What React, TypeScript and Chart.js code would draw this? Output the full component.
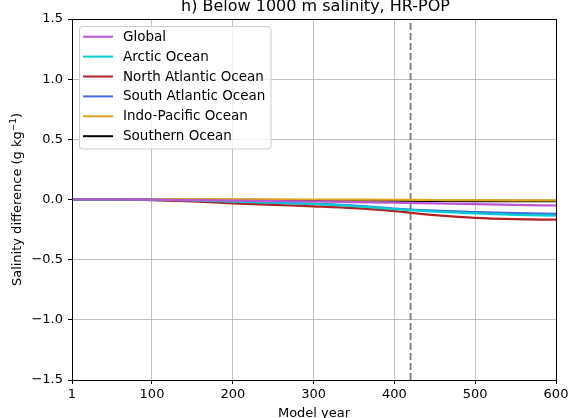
import React, { useEffect, useRef } from "react";
import { Chart, registerables } from "chart.js";

Chart.register(...registerables);

const YEARS = [1, 50, 100, 150, 200, 250, 300, 350, 400, 450, 500, 550, 600];
const GLOBAL = [0, 0, -0.002, -0.005, -0.009, -0.013, -0.017, -0.021, -0.026, -0.033, -0.039, -0.045, -0.05];
const ARCTIC = [0, 0, -0.002, -0.008, -0.017, -0.027, -0.037, -0.055, -0.08, -0.1, -0.115, -0.127, -0.135];
const NORTH_ATLANTIC = [0, 0, -0.005, -0.016, -0.032, -0.045, -0.057, -0.072, -0.097, -0.13, -0.152, -0.163, -0.168];
const SOUTH_ATLANTIC = [0, 0, -0.003, -0.01, -0.02, -0.028, -0.037, -0.05, -0.075, -0.093, -0.104, -0.113, -0.12];
const INDO_PACIFIC = [0, 0, 0.002, 0.003, 0.002, 0.001, 0, -0.001, -0.002, -0.004, -0.006, -0.007, -0.008];
const SOUTHERN = [0, 0, 0, -0.001, -0.002, -0.004, -0.005, -0.007, -0.01, -0.012, -0.013, -0.013, -0.013];

const SERIES_NAMES = ["Global", "Arctic Ocean", "North Atlantic Ocean", "South Atlantic Ocean", "Indo-Pacific Ocean", "Southern Ocean"];
const SERIES_VALUES = [GLOBAL, ARCTIC, NORTH_ATLANTIC, SOUTH_ATLANTIC, INDO_PACIFIC, SOUTHERN];
const SERIES_COLORS = ["#ba55d3", "#00ced1", "#b22222", "#4169e1", "#daa520", "#000000"];

const X_TICKS = [1, 100, 200, 300, 400, 500, 600];
const Y_TICKS = [-1.5, -1.0, -0.5, 0.0, 0.5, 1.0, 1.5];
const MARKER_YEAR = [420, 420];
const MARKER_Y = [-1.5, 1.5];

const TITLE = "h) Below 1000 m salinity, HR-POP";
const X_LABEL = "Model year";
const FONT = "'DejaVu Sans', sans-serif";

const decorPlugin = {
  id: "decor",
  afterDraw(chart: any) {
    const ctx = chart.ctx;
    const a = chart.chartArea;
    ctx.save();
    // frame
    ctx.strokeStyle = "#000";
    ctx.lineWidth = 1;
    ctx.strokeRect(Math.round(a.left) + 0.5, Math.round(a.top) + 0.5, Math.round(a.right - a.left), Math.round(a.bottom - a.top));
    // title
    ctx.fillStyle = "#000";
    ctx.font = `16px ${FONT}`;
    ctx.textAlign = "center";
    ctx.textBaseline = "alphabetic";
    ctx.fillText(TITLE, (a.left + a.right) / 2 + 1.5, 11);
    // x label
    ctx.font = `13px ${FONT}`;
    ctx.fillText(X_LABEL, (a.left + a.right) / 2, 416.5);
    // y label with superscript
    ctx.save();
    ctx.translate(20.5, (a.top + a.bottom) / 2);
    ctx.rotate(-Math.PI / 2);
    const p1 = "Salinity difference (g kg";
    const sup = "\u22121";
    const p2 = ")";
    ctx.font = `13px ${FONT}`;
    const w1 = ctx.measureText(p1).width;
    const w3 = ctx.measureText(p2).width;
    ctx.font = `9px ${FONT}`;
    const w2 = ctx.measureText(sup).width;
    const total = w1 + w2 + w3;
    let x = -total / 2;
    ctx.textAlign = "left";
    ctx.font = `13px ${FONT}`;
    ctx.fillText(p1, x, 0);
    x += w1;
    ctx.font = `9px ${FONT}`;
    ctx.fillText(sup, x, -5);
    x += w2;
    ctx.font = `13px ${FONT}`;
    ctx.fillText(p2, x, 0);
    ctx.restore();
    // legend
    const lx = 79.5, ly = 26.5, lw = 191.5, lh = 122.5, r = 3;
    ctx.beginPath();
    ctx.moveTo(lx + r, ly);
    ctx.lineTo(lx + lw - r, ly);
    ctx.quadraticCurveTo(lx + lw, ly, lx + lw, ly + r);
    ctx.lineTo(lx + lw, ly + lh - r);
    ctx.quadraticCurveTo(lx + lw, ly + lh, lx + lw - r, ly + lh);
    ctx.lineTo(lx + r, ly + lh);
    ctx.quadraticCurveTo(lx, ly + lh, lx, ly + lh - r);
    ctx.lineTo(lx, ly + r);
    ctx.quadraticCurveTo(lx, ly, lx + r, ly);
    ctx.closePath();
    ctx.fillStyle = "rgba(255,255,255,0.8)";
    ctx.fill();
    ctx.strokeStyle = "#cccccc";
    ctx.lineWidth = 1;
    ctx.stroke();
    ctx.font = `13.5px ${FONT}`;
    ctx.textAlign = "left";
    ctx.textBaseline = "middle";
    SERIES_NAMES.forEach((name, i) => {
      const y = 36.7 + i * 19.9;
      ctx.strokeStyle = SERIES_COLORS[i];
      ctx.lineWidth = 2;
      ctx.beginPath();
      ctx.moveTo(83, y);
      ctx.lineTo(113, y);
      ctx.stroke();
      ctx.fillStyle = "#000";
      ctx.fillText(name, 123, y + 0.5);
    });
    ctx.restore();
  },
};

function fmt(v: number) {
  const s = Math.abs(v).toFixed(1);
  return v < 0 ? "\u2212" + s : s;
}

export default function App() {
  const ref = useRef<HTMLCanvasElement | null>(null);
  useEffect(() => {
    if (!ref.current) return;
    const datasets: any[] = SERIES_NAMES.map((name, i) => ({
      label: name,
      data: YEARS.map((yr, j) => ({ x: yr, y: SERIES_VALUES[i][j] })),
      borderColor: SERIES_COLORS[i],
      backgroundColor: SERIES_COLORS[i],
      borderWidth: 2.2,
      pointRadius: 0,
      cubicInterpolationMode: "monotone",
      fill: false,
    }));
    datasets.push({
      label: "marker",
      data: MARKER_YEAR.map((yr, j) => ({ x: yr, y: MARKER_Y[j] })),
      borderColor: "#7a7a7a",
      borderWidth: 1.8,
      borderDash: [7, 3],
      pointRadius: 0,
      fill: false,
    });
    const tickFont = { family: FONT, size: 13 };
    const chart = new Chart(ref.current, {
      type: "line",
      data: { datasets },
      plugins: [decorPlugin],
      options: {
        animation: false,
        responsive: false,
        devicePixelRatio: 1,
        layout: { padding: { top: 19, right: 27, left: 0, bottom: 0 } },
        plugins: { legend: { display: false }, title: { display: false }, tooltip: { enabled: false } },
        scales: {
          x: {
            type: "linear",
            min: 1,
            max: 600,
            afterBuildTicks: (s: any) => {
              s.ticks = X_TICKS.map((v) => ({ value: v }));
            },
            afterFit: (s: any) => {
              s.height = 38;
            },
            ticks: { font: tickFont, color: "#000", maxRotation: 0, autoSkip: false, padding: 3 },
            grid: { color: "#b0b0b0", lineWidth: 0.8, tickColor: "#000", tickLength: 4, tickWidth: 1 },
            border: { color: "#000", width: 1 },
          },
          y: {
            type: "linear",
            min: -1.5,
            max: 1.5,
            afterBuildTicks: (s: any) => {
              s.ticks = Y_TICKS.map((v) => ({ value: v }));
            },
            afterFit: (s: any) => {
              s.width = 72;
            },
            ticks: { font: tickFont, color: "#000", padding: 5, callback: (v: any) => fmt(Number(v)) },
            grid: { color: "#b0b0b0", lineWidth: 0.8, tickColor: "#000", tickLength: 4, tickWidth: 1 },
            border: { color: "#000", width: 1 },
          },
        },
      } as any,
    });
    return () => chart.destroy();
  }, []);
  return (
    <div style={{ position: "absolute", left: 0, top: 0, width: 583, height: 418, background: "#fff" }}>
      <canvas ref={ref} width={583} height={418} style={{ width: 583, height: 418, display: "block" }} />
    </div>
  );
}
